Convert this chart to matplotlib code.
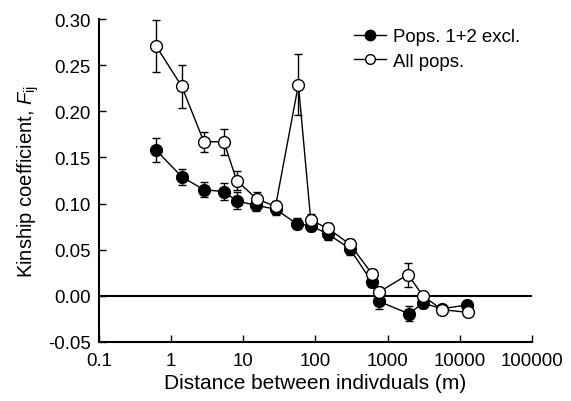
import matplotlib
matplotlib.use("Agg")
import matplotlib.pyplot as plt
from matplotlib.lines import Line2D
import numpy as np

plt.rcParams['font.family'] = ['Liberation Sans', 'DejaVu Sans']
plt.rcParams['mathtext.fontset'] = 'custom'
plt.rcParams['mathtext.rm'] = 'Liberation Sans'
plt.rcParams['mathtext.it'] = 'Liberation Sans:italic'

# Distance classes (m)
dist_excl = [0.62, 1.41, 2.85, 5.4, 8.1, 15, 28, 55, 86, 149, 299, 604, 755, 1960, 3075, 5640, 12500]
dist_all = [0.62, 1.41, 2.85, 5.4, 8.1, 15.4, 28, 58, 86, 149, 299, 604, 755, 1905, 3075, 5640, 12900]

# Pops. 1+2 excluded
f_excl = [0.158, 0.129, 0.115, 0.113, 0.103, 0.098, 0.094, 0.078, 0.076, 0.067, 0.051, 0.015,
          -0.006, -0.0195, -0.008, -0.014, -0.010]
err_excl = [0.013, 0.009, 0.008, 0.009, 0.009, 0.006, 0.006, 0.006, 0.006, 0.006, 0.007, 0.006,
            0.008, 0.008, 0.005, 0.004, 0.004]

# All pops.
f_all = [0.271, 0.227, 0.167, 0.167, 0.125, 0.105, 0.097, 0.229, 0.082, 0.073, 0.056, 0.024,
         0.004, 0.023, 0.000, -0.015, -0.018]
err_all = [0.028, 0.023, 0.011, 0.014, 0.010, 0.007, 0.006, 0.033, 0.007, 0.006, 0.006, 0.005,
           0.005, 0.013, 0.004, 0.003, 0.003]

xticks = [0.1, 1, 10, 100, 1000, 10000, 100000]
xticklabels = ['0.1', '1', '10', '100', '1000', '10000', '100000']
yticks = [-0.05, 0.0, 0.05, 0.10, 0.15, 0.20, 0.25, 0.30]

fig = plt.figure(figsize=(5.71, 4.02), dpi=100)
ax = fig.add_axes([0.173, 0.147, 0.759, 0.803])

ax.axhline(0, color='black', lw=1.5, zorder=1)

ax.errorbar(dist_excl, f_excl, yerr=err_excl, fmt='-o', color='black', mfc='black', mec='black',
            ms=8.5, lw=1, elinewidth=1, capsize=3, capthick=1, zorder=3)
ax.errorbar(dist_all, f_all, yerr=err_all, fmt='-o', color='black', mfc='white', mec='black',
            ms=8.5, mew=1, lw=1, elinewidth=1, capsize=3, capthick=1, zorder=4)

ax.set_xscale('log')
ax.set_xlim(0.1, 100000)
ax.set_ylim(-0.05, 0.30)
ax.set_xticks(xticks)
ax.set_xticklabels(xticklabels)
ax.xaxis.set_minor_locator(matplotlib.ticker.NullLocator())
ax.set_yticks(yticks)
ax.set_yticklabels(['%.2f' % v for v in yticks])

ax.spines['top'].set_visible(False)
ax.spines['right'].set_visible(False)
ax.spines['left'].set_linewidth(1.5)
ax.spines['bottom'].set_linewidth(1.5)
ax.tick_params(direction='in', length=5, width=1, labelsize=13.4)
ax.tick_params(axis='x', pad=7)
ax.tick_params(axis='y', pad=6)

ax.set_xlabel('Distance between indivduals (m)', fontsize=15, labelpad=3.5)
ax.set_ylabel(r'Kinship coefficient, $\mathit{F}_{\mathrm{ij}}$', fontsize=14.5, labelpad=4.5)

handles = [
    Line2D([], [], color='black', marker='o', mfc='black', mec='black', ms=7.5, lw=1),
    Line2D([], [], color='black', marker='o', mfc='white', mec='black', ms=7, lw=1),
]
ax.legend(handles, ['Pops. 1+2 excl.', 'All pops.'], loc='upper left',
          bbox_to_anchor=(0.59, 0.972), frameon=False, fontsize=13.4, borderpad=0,
          borderaxespad=0, handlelength=1.7, handletextpad=0.35, labelspacing=0.4)

fig.savefig('out.png', dpi=100)
